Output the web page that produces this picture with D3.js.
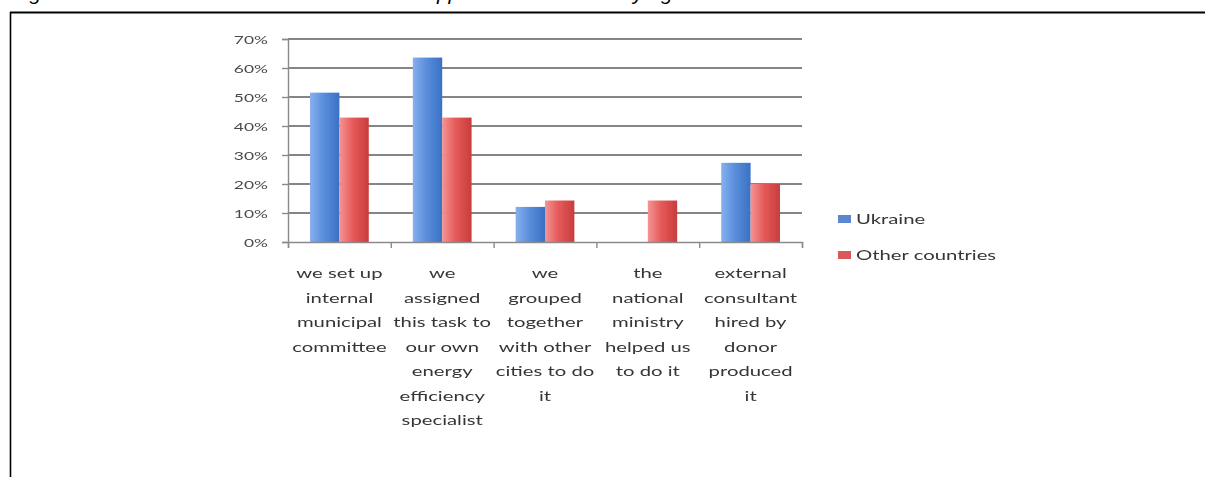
<!DOCTYPE html>
<html>
<head>
<meta charset="utf-8">
<script src="https://cdn.jsdelivr.net/npm/d3@7"></script>
<style>
  html, body { margin: 0; padding: 0; background: #fff; }
  svg { display: block; }
</style>
</head>
<body>
<svg id="chart" width="1205" height="477"></svg>
<script>
// Survey shares by approach, per group of respondents
const categories = [
  "we set up internal municipal committee",
  "we assigned this task to our own energy efficiency specialist",
  "we grouped together with other cities to do it",
  "the national ministry helped us to do it",
  "external consultant hired by donor produced it"
];
const categoryLines = [
  ["we set up", "internal", "municipal", "committee"],
  ["we", "assigned", "this task to", "our own", "energy", "efficiency", "specialist"],
  ["we", "grouped", "together", "with other", "cities to do", "it"],
  ["the", "national", "ministry", "helped us", "to do it"],
  ["external", "consultant", "hired by", "donor", "produced", "it"]
];
const seriesNames = ["Ukraine", "Other countries"];
const ukraine = [0.515, 0.636, 0.121, 0, 0.273];
const otherCountries = [0.429, 0.429, 0.143, 0.143, 0.20];
const yTicks = [0, 0.1, 0.2, 0.3, 0.4, 0.5, 0.6, 0.7];
const caption = "Figure 3: Which solution was chosen for the approach to the task by agencies";

const svg = d3.select("#chart");
const W = 1205, H = 477;

// Caption above the figure box, mostly above the top edge of the page
svg.append("text")
  .attr("x", 12).attr("y", -0.5)
  .attr("font-family", "Liberation Sans, Arial, sans-serif")
  .attr("font-style", "italic")
  .attr("font-size", 21)
  .attr("fill", "#000")
  .text(caption);
// Frame of the figure box (top and left edges visible)
svg.append("line").attr("x1", 10).attr("x2", W).attr("y1", 12.5).attr("y2", 12.5)
  .attr("stroke", "#000").attr("stroke-width", 2.2);
svg.append("line").attr("x1", 10.5).attr("x2", 10.5).attr("y1", 12).attr("y2", H)
  .attr("stroke", "#000").attr("stroke-width", 1.6);

const defs = svg.append("defs");
const blur = defs.append("filter").attr("id", "soft")
  .attr("x", "-5%").attr("y", "-5%").attr("width", "110%").attr("height", "110%");
blur.append("feGaussianBlur").attr("stdDeviation", 0.55);

function gradient(id, stops) {
  const g = defs.append("linearGradient").attr("id", id)
    .attr("x1", "0%").attr("x2", "100%").attr("y1", "0%").attr("y2", "0%");
  stops.forEach(([o, c]) => g.append("stop").attr("offset", o).attr("stop-color", c));
}
gradient("gBlue", [["0%", "#86b0ee"], ["45%", "#5b8fdc"], ["100%", "#3a70c4"]]);
gradient("gRed", [["0%", "#f49494"], ["45%", "#e65a5a"], ["100%", "#c83c3c"]]);
const fills = ["url(#gBlue)", "url(#gRed)"];
const legendColors = ["#5b86d0", "#d9595b"];

const plot = { left: 288, right: 802, top: 39, bottom: 242 };
const sx = 1.45; // horizontal stretch of the chart lettering

const x0 = d3.scaleBand().domain(d3.range(categories.length))
  .range([plot.left, plot.right]).paddingInner(0).paddingOuter(0);
const x1 = d3.scaleBand().domain(d3.range(seriesNames.length))
  .range([0, x0.bandwidth()]).paddingInner(0).paddingOuter(0.75);
const y = d3.scaleLinear().domain([0, 0.7]).range([plot.bottom, plot.top]);

const g = svg.append("g").attr("filter", "url(#soft)");

// Horizontal gridlines
g.append("g").selectAll("line").data(yTicks.slice(1)).join("line")
  .attr("x1", plot.left).attr("x2", plot.right)
  .attr("y1", d => y(d)).attr("y2", d => y(d))
  .attr("stroke", "#858585").attr("stroke-width", 1.8);

// Y axis
const yAxis = d3.axisLeft(y).tickValues(yTicks).tickSize(6).tickFormat(d3.format(".0%"));
const ya = g.append("g").attr("transform", `translate(${plot.left},0)`).call(yAxis);
ya.select(".domain").attr("stroke", "#8a8a8a").attr("stroke-width", 1.4);
ya.selectAll(".tick line").attr("stroke", "#8a8a8a").attr("stroke-width", 1.4);
ya.selectAll(".tick text")
  .attr("x", null).attr("dy", null)
  .attr("transform", `translate(-20,4) scale(${sx},1)`)
  .attr("text-anchor", "end")
  .attr("font-family", "Lato, 'Open Sans', sans-serif")
  .attr("font-size", 12)
  .attr("fill", "#4a4a4a");

// Bars
const groups = g.append("g").selectAll("g").data(categories.map((c, i) => i)).join("g")
  .attr("transform", i => `translate(${x0(i)},0)`);
groups.selectAll("rect")
  .data(i => [ukraine[i], otherCountries[i]].map((v, s) => ({ v, s })))
  .join("rect")
  .attr("x", d => x1(d.s))
  .attr("width", x1.bandwidth())
  .attr("y", d => y(d.v))
  .attr("height", d => y(0) - y(d.v))
  .attr("fill", d => fills[d.s]);

// X axis with ticks between categories
const xAxisScale = d3.scaleLinear().domain([0, categories.length]).range([plot.left, plot.right]);
const xa = g.append("g").attr("transform", `translate(0,${plot.bottom})`)
  .call(d3.axisBottom(xAxisScale).tickValues(d3.range(categories.length + 1)).tickSize(6).tickFormat(""));
xa.select(".domain").attr("stroke", "#8a8a8a").attr("stroke-width", 1.4);
xa.selectAll(".tick line").attr("stroke", "#8a8a8a").attr("stroke-width", 1.4);

// Category labels, wrapped
const lineH = 24.5, firstLine = 278;
const lab = g.append("g").selectAll("g").data(categoryLines).join("g");
lab.each(function (lines, i) {
  const cx = x0(i) + x0.bandwidth() / 2;
  d3.select(this).selectAll("text").data(lines).join("text")
    .attr("transform", (d, k) => `translate(${cx},${firstLine + k * lineH}) scale(${sx},1)`)
    .attr("text-anchor", "middle")
    .attr("font-family", "Lato, 'Open Sans', sans-serif")
    .attr("font-size", 14)
    .attr("fill", "#363636")
    .text(d => d);
});

// Legend
const legend = g.append("g").selectAll("g").data(seriesNames).join("g")
  .attr("transform", (d, i) => `translate(838,${219 + i * 36})`);
legend.append("rect").attr("x", 0).attr("y", -4).attr("width", 13).attr("height", 8)
  .attr("fill", (d, i) => legendColors[i]);
legend.append("text")
  .attr("transform", `translate(18,5) scale(${sx},1)`)
  .attr("font-family", "Lato, 'Open Sans', sans-serif")
  .attr("font-size", 14)
  .attr("fill", "#363636")
  .text(d => d);
</script>
</body>
</html>
